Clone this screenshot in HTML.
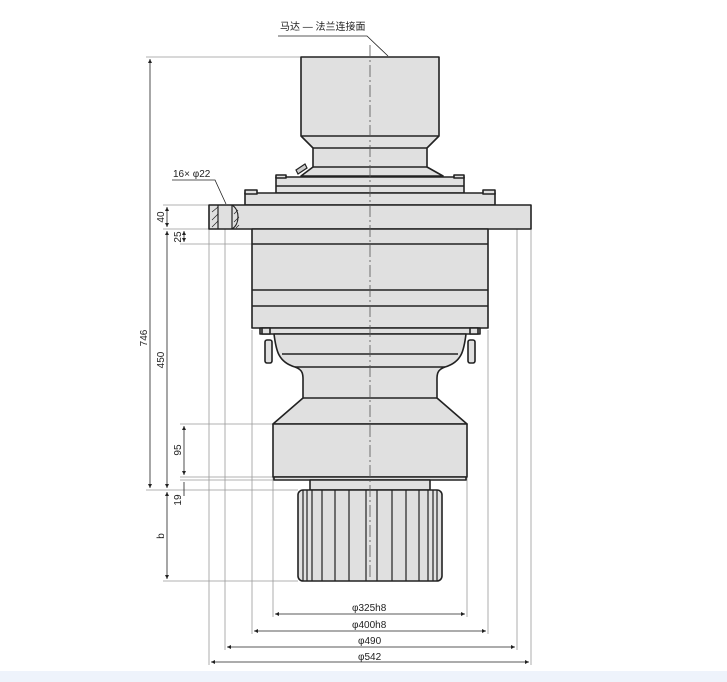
<!DOCTYPE html>
<html><head><meta charset="utf-8"><style>
html,body{margin:0;padding:0;background:#fff;}
svg{display:block}
text{font-family:"Liberation Sans","Noto Sans CJK SC",sans-serif;fill:#222}
</style></head><body>
<svg width="727" height="682" viewBox="0 0 727 682" xmlns="http://www.w3.org/2000/svg">
<rect x="0" y="671" width="727" height="11" fill="#eef3fb"/>
<defs>
<marker id="a" viewBox="0 0 6 6" refX="6" refY="3" markerWidth="5" markerHeight="5" orient="auto-start-reverse"><path d="M0,0L6,3L0,6z" fill="#222"/></marker>
</defs>
<g stroke="#999" stroke-width="0.8" fill="none">
<!-- extension lines -->
<line x1="209" y1="229" x2="209" y2="665"/>
<line x1="531" y1="229" x2="531" y2="665"/>
<line x1="225" y1="229" x2="225" y2="650"/>
<line x1="517" y1="205" x2="517" y2="650"/>
<line x1="252" y1="330" x2="252" y2="634"/>
<line x1="488" y1="330" x2="488" y2="634"/>
<line x1="273" y1="477" x2="273" y2="617"/>
<line x1="467" y1="477" x2="467" y2="617"/>
<line x1="146" y1="57" x2="301" y2="57"/>
<line x1="146" y1="490" x2="298" y2="490"/>
<line x1="163" y1="205" x2="209" y2="205"/>
<line x1="163" y1="229" x2="252" y2="229"/>
<line x1="180" y1="244" x2="252" y2="244"/>
<line x1="180" y1="424" x2="273" y2="424"/>
<line x1="180" y1="477" x2="273" y2="477"/>
<line x1="180" y1="480" x2="310" y2="480"/>
<line x1="163" y1="581" x2="298" y2="581"/>
</g>
<!-- body -->
<g stroke="#222" stroke-width="1.6" fill="#e0e0e0" stroke-linejoin="round">
<path d="M301,57H439V136L427,148V167L443,176H301L313,167V148L301,136Z"/>
<line x1="301" y1="136" x2="439" y2="136"/>
<line x1="313" y1="148" x2="427" y2="148"/>
<line x1="313" y1="167" x2="427" y2="167"/>
<rect x="276" y="177" width="188" height="16"/>
<line x1="276" y1="186" x2="464" y2="186"/>
<rect x="245" y="193" width="250" height="12"/>
<rect x="209" y="205" width="322" height="24"/>
<rect x="252" y="229" width="236" height="99"/>
<line x1="252" y1="244" x2="488" y2="244"/>
<line x1="252" y1="290" x2="488" y2="290"/>
<line x1="252" y1="306" x2="488" y2="306"/>
<rect x="260" y="328" width="220" height="6"/>
<path d="M274,334H466C464,350 462,362 445,367C436,370 437,376 437,382V398L467,424H273L303,398V382C303,376 304,370 295,367C278,362 276,350 274,334Z"/>
<line x1="282" y1="354" x2="458" y2="354"/>
<line x1="295" y1="367" x2="445" y2="367"/>
<line x1="303" y1="398" x2="437" y2="398"/>
<rect x="273" y="424" width="194" height="53"/>
<rect x="274" y="477" width="192" height="3"/>
<rect x="310" y="480" width="120" height="10"/>
<rect x="298" y="490" width="144" height="91" rx="5"/>
<rect x="265" y="340" width="7" height="23" rx="2"/>
<rect x="468" y="340" width="7" height="23" rx="2"/>
<rect x="262" y="328" width="8" height="6"/>
<rect x="470" y="328" width="8" height="6"/>
<rect x="245" y="190" width="12" height="4"/>
<rect x="483" y="190" width="12" height="4"/>
<rect x="276" y="175" width="10" height="3"/>
<rect x="454" y="175" width="10" height="3"/>
</g>
<g stroke="#222" stroke-width="1.2" fill="none">
<path d="M303,490V581M307,490V581M312,490V581M322,490V581M335,490V581M349,490V581M366,490V581M377,490V581M392,490V581M406,490V581M419,490V581M428,490V581M433,490V581M437,490V581"/>
<line x1="218" y1="205" x2="218" y2="229"/>
<line x1="232" y1="205" x2="232" y2="229"/>
<path d="M232,205C240,210 240,224 232,229"/>
<path d="M212,212L218,207M212,220L218,214M212,227L218,221M234,214L238,210M234,222L239,217M236,228L239,225" stroke-width="0.7"/>
<path d="M296,170L305,164L307,168L298,174Z" fill="#ccc"/>
</g>
<!-- center line -->
<line x1="370" y1="45" x2="370" y2="585" stroke="#555" stroke-width="0.8" stroke-dasharray="12,3,2,3"/>
<!-- dims -->
<g stroke="#222" stroke-width="0.8" marker-start="url(#a)" marker-end="url(#a)">
<line x1="150" y1="59" x2="150" y2="488"/>
<line x1="167" y1="231" x2="167" y2="488"/>
<line x1="167" y1="207" x2="167" y2="227"/>
<line x1="184" y1="231" x2="184" y2="242"/>
<line x1="184" y1="426" x2="184" y2="475"/>
<line x1="167" y1="492" x2="167" y2="579"/>
<line x1="275" y1="614" x2="465" y2="614"/>
<line x1="254" y1="631" x2="486" y2="631"/>
<line x1="227" y1="647" x2="515" y2="647"/>
<line x1="211" y1="662" x2="529" y2="662"/>
</g>
<line x1="184" y1="482" x2="184" y2="496" stroke="#222" stroke-width="0.8"/>
<g stroke="#222" stroke-width="0.8" fill="none">
<path d="M278,36H367L388,56"/>
<path d="M172,180H215L226,204"/>
</g>
<g font-size="10">
<text x="280" y="30">马达 — 法兰连接面</text>
<text x="173" y="177">16× φ22</text>
<text x="352" y="611">φ325h8</text>
<text x="352" y="628">φ400h8</text>
<text x="358" y="644">φ490</text>
<text x="358" y="660">φ542</text>
<text transform="translate(147,338) rotate(-90)" text-anchor="middle">746</text>
<text transform="translate(164,360) rotate(-90)" text-anchor="middle">450</text>
<text transform="translate(164,217) rotate(-90)" text-anchor="middle">40</text>
<text transform="translate(181,237) rotate(-90)" text-anchor="middle">25</text>
<text transform="translate(181,450) rotate(-90)" text-anchor="middle">95</text>
<text transform="translate(181,500) rotate(-90)" text-anchor="middle">19</text>
<text transform="translate(164,536) rotate(-90)" text-anchor="middle">b</text>
</g>
</svg>
</body></html>
